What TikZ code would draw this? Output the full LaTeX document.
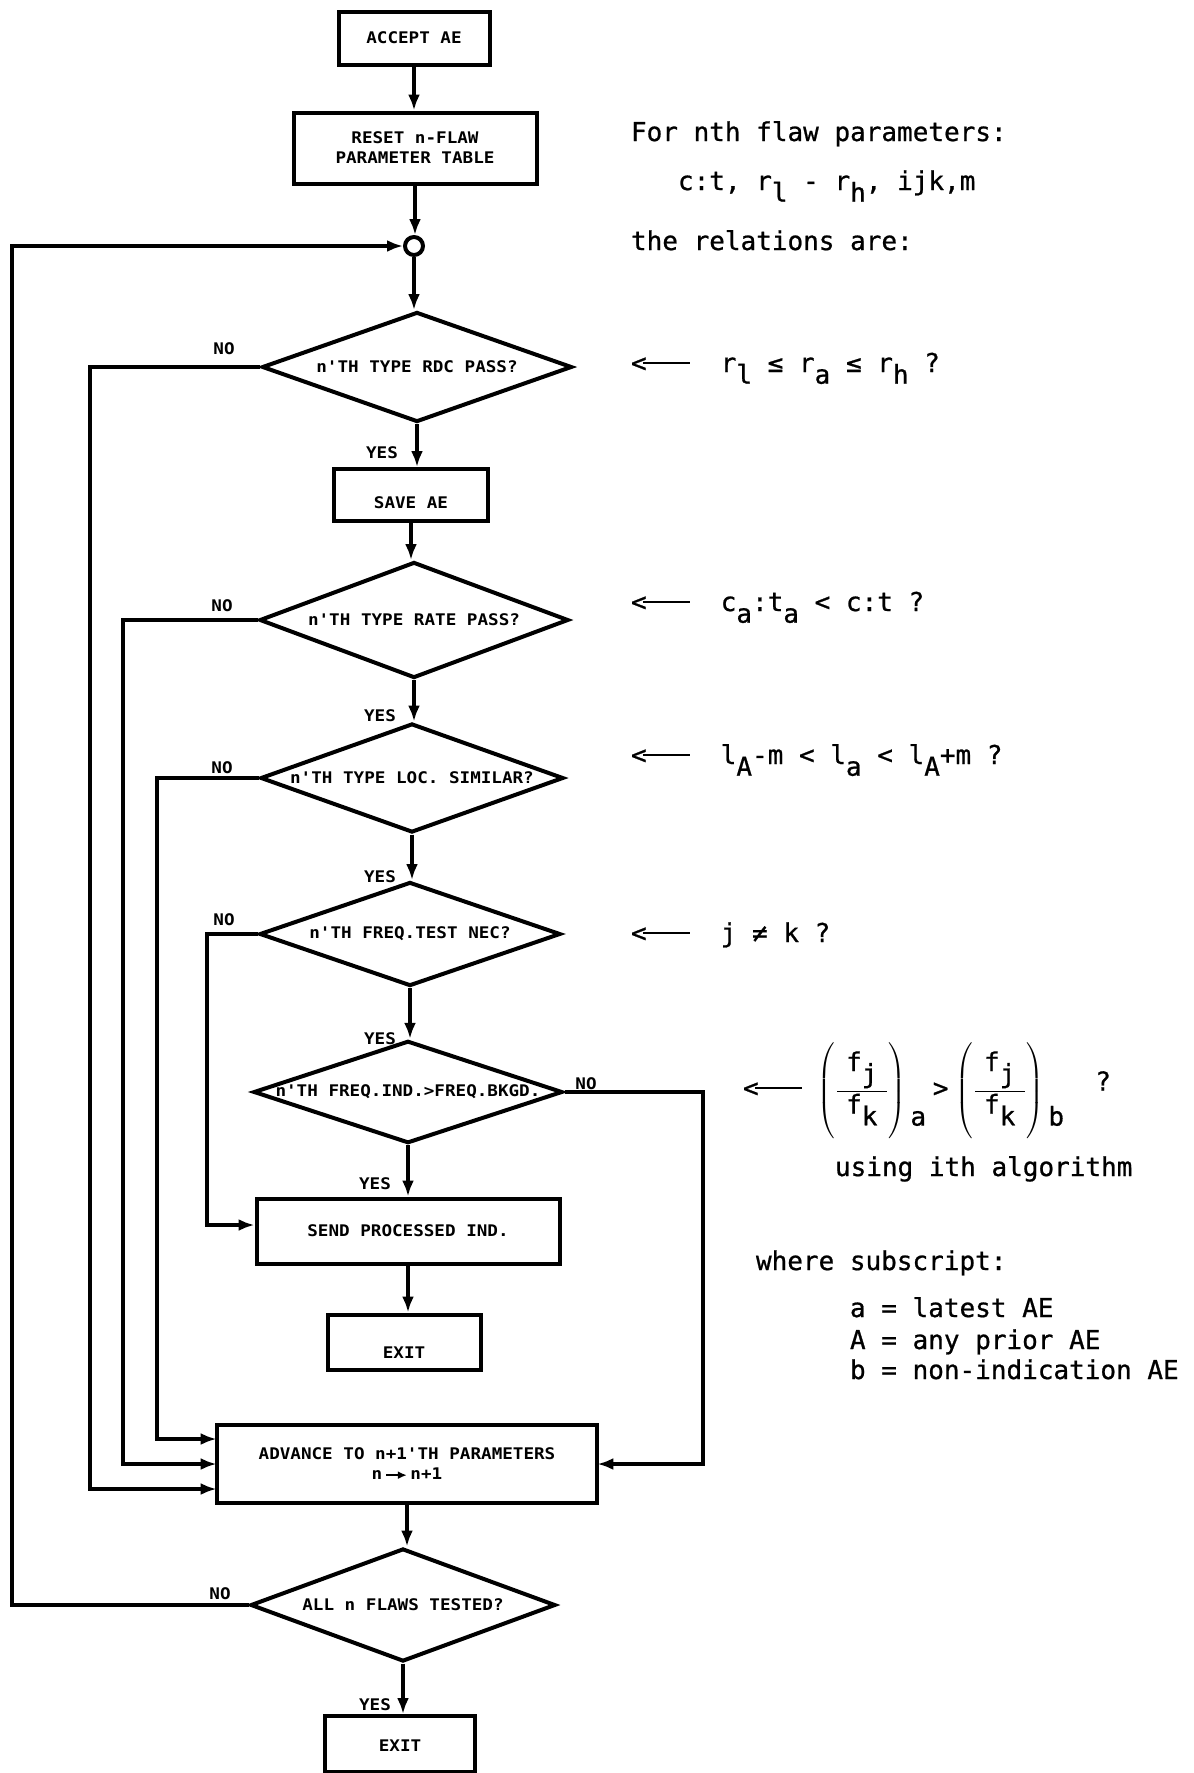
\documentclass[tikz,border=0pt]{standalone}
\usepackage{fontspec}
\usetikzlibrary{shapes.geometric,arrows.meta}
\newfontfamily\lab[FakeStretch=1.1]{DejaVu Sans Mono}
\newfontfamily\mono[FakeBold=0.8]{DejaVu Sans Mono}
\newcommand\dn[1]{\raisebox{-0.45em}{#1}}
\newcommand\lar{{<}\kern-0.15em\rule[0.3em]{1.8em}{0.09em}}
\newcommand\fjk{\left(\rule[-1.6em]{0pt}{3.6em}\frac{\hbox{\kern0.35em f\dn{j}\kern0.35em}}{\hbox{\kern0.35em f\dn{k}\kern0.35em}}\right)}
\newcommand\lowtxt[2]{\raisebox{-#1}[\height][\depth]{#2}}
\begin{document}
\begin{tikzpicture}[x=0.5pt,y=-0.5pt,line width=2pt,
  box/.style={draw,rectangle,inner sep=0pt,align=center,font=\lab\bfseries\fontsize{8}{10}\selectfont},
  dec/.style={draw,diamond,aspect=3,inner sep=0pt,font=\lab\bfseries\fontsize{8}{10}\selectfont},
  arr/.style={-{Latex[length=8pt,width=6pt]}},
  yn/.style={inner sep=0pt,font=\lab\bfseries\fontsize{8}{10}\selectfont},
  note/.style={inner sep=0pt,anchor=base west,font=\mono\fontsize{13}{15}\selectfont}]
\useasboundingbox (0,0) rectangle (1194,1773);

% x positions of the vertical return lines
\coordinate (x0) at (12,0);
\coordinate (x1) at (90,0);
\coordinate (x2) at (123,0);
\coordinate (x3) at (157,0);
\coordinate (x4) at (207,0);
\coordinate (x5) at (703,0);

% nodes
\node[box,minimum width=75.5pt,minimum height=26.5pt] (accept) at (414,38) {ACCEPT AE};
\node[box,minimum width=121.5pt,minimum height=35.5pt] (reset) at (415,148) {RESET n-FLAW\\PARAMETER TABLE};
\node[draw,circle,minimum size=9pt,inner sep=0pt] (join) at (414,246) {};
\node[dec,minimum width=155pt,minimum height=55pt] (rdc) at (417,367) {n'TH TYPE RDC PASS?};
\node[box,minimum width=77pt,minimum height=26pt] (save) at (411,495) {\lowtxt{4pt}{SAVE AE}};
\node[dec,minimum width=154.5pt,minimum height=58pt] (rate) at (414,620) {n'TH TYPE RATE PASS?};
\node[dec,minimum width=151.5pt,minimum height=54.5pt] (loc) at (412,778) {n'TH TYPE LOC. SIMILAR?};
\node[dec,minimum width=150.5pt,minimum height=52pt] (ftest) at (410,934) {n'TH FREQ.TEST NEC?};
\node[dec,minimum width=154.5pt,minimum height=51pt] (find) at (408,1092) {n'TH FREQ.IND.>FREQ.BKGD.};
\node[box,minimum width=151.5pt,minimum height=32.5pt] (send) at (408,1231) {SEND PROCESSED IND.};
\node[box,minimum width=76.5pt,minimum height=27.5pt] (exit1) at (404,1342) {\lowtxt{5.5pt}{EXIT}};
\node[box,minimum width=190pt,minimum height=39pt] (adv) at (407,1464) {ADVANCE TO n+1'TH PARAMETERS\\n\,\tikz[baseline=-0.3em]\draw[line width=1pt,-{Latex[length=4.5pt,width=4pt]}] (0,0) -- (1.3em,0);\,n+1};
\node[dec,minimum width=152.5pt,minimum height=56.5pt] (all) at (403,1605) {ALL n FLAWS TESTED?};
\node[box,minimum width=75pt,minimum height=28pt] (exit2) at (400,1744) {\lowtxt{1pt}{EXIT}};

% main flow
\draw[arr] (accept.south) -- (accept.south |- reset.north);
\draw[arr] (reset.south) -- (reset.south |- join.north);
\draw[arr] (join.south) -- (join.south |- rdc.north);
\draw[arr] (rdc.south) -- (rdc.south |- save.north);
\draw[arr] (save.south) -- (save.south |- rate.north);
\draw[arr] (rate.south) -- (rate.south |- loc.north);
\draw[arr] (loc.south) -- (loc.south |- ftest.north);
\draw[arr] (ftest.south) -- (ftest.south |- find.north);
\draw[arr] (find.south) -- (find.south |- send.north);
\draw[arr] (send.south) -- (send.south |- exit1.north);
\draw[arr] (adv.south) -- (adv.south |- all.north);
\draw[arr] (all.south) -- (all.south |- exit2.north);

% NO branches
\draw[arr] (rdc.west) -- (rdc.west -| x1) |- ([yshift=-12.5pt]adv.west);
\draw[arr] (rate.west) -- (rate.west -| x2) |- (adv.west);
\draw[arr] (loc.west) -- (loc.west -| x3) |- ([yshift=12.5pt]adv.west);
\draw[arr] (ftest.west) -- (ftest.west -| x4) |- ([yshift=3pt]send.west);
\draw[arr] (find.east) -- (find.east -| x5) |- (adv.east);
\draw[arr] (all.west) -- (all.west -| x0) |- (join.west);

% YES / NO labels
\node[yn] (n1) at (224,349) {NO};
\node[yn] (n2) at (222,606) {NO};
\node[yn] (n3) at (222,768) {NO};
\node[yn] (n4) at (224,920) {NO};
\node[yn] (n5) at (586,1084) {NO};
\node[yn] (n6) at (220,1594) {NO};
\node[yn] (y1) at (382,453) {YES};
\node[yn] (y2) at (380,716) {YES};
\node[yn] (y3) at (380,877) {YES};
\node[yn] (y4) at (380,1039) {YES};
\node[yn] (y5) at (375,1184) {YES};
\node[yn] (y6) at (375,1705) {YES};

% right-hand notes
\node[note] (t1) at (629,141) {For nth flaw parameters:};
\node[note] (t2) at (676,190) {c:t, r\dn{l} - r\dn{h}, ijk,m};
\node[note] (t3) at (629,250) {the relations are:};
\node[note] (r1) at (629,372) {\lar\hspace{1.2em}r\dn{l} ≤ r\dn{a} ≤ r\dn{h} ?};
\node[note] (r2) at (629,611) {\lar\hspace{1.2em}c\dn{a}:t\dn{a} < c:t ?};
\node[note] (r3) at (629,764) {\lar\hspace{1.2em}l\dn{A}-m < l\dn{a} < l\dn{A}+m ?};
\node[note] (r4) at (629,942) {\lar\hspace{1.2em}j ≠ k ?};
\node[note] (r5) at (741,1097) {\lar\hspace{0.6em}$\displaystyle\fjk\hbox{\raisebox{-1.1em}{a}}\mathrel{\hbox{>}}\fjk\hbox{\raisebox{-1.1em}{b}\ \ \raisebox{0.25em}{?}}$};
\node[note] (t4) at (833,1176) {using ith algorithm};
\node[note] (t5) at (754,1270) {where subscript:};
\node[note] (t6) at (848,1317) {a = latest AE};
\node[note] (t7) at (848,1349) {A = any prior AE};
\node[note] (t8) at (848,1379) {b = non-indication AE};
\end{tikzpicture}
\end{document}
